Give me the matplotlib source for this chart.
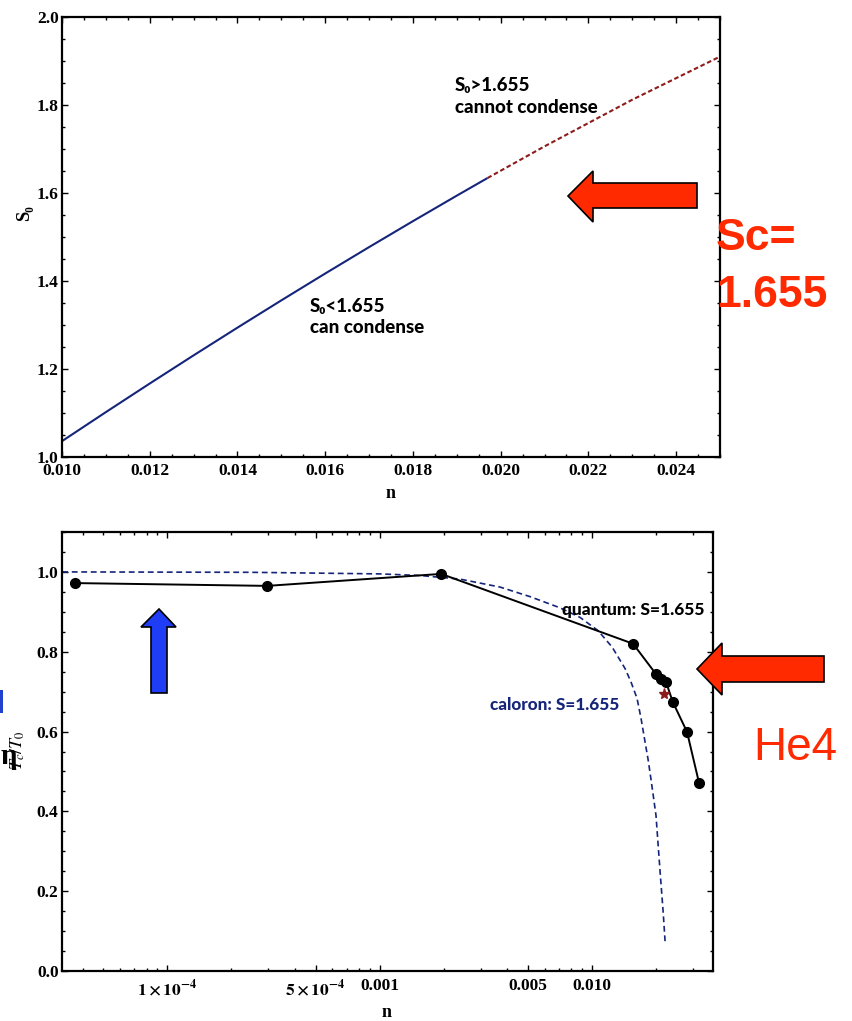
import matplotlib
matplotlib.use("Agg")
import matplotlib.pyplot as plt
from matplotlib.patches import Polygon
from matplotlib.ticker import FixedLocator, FixedFormatter, MultipleLocator, NullFormatter

# ---- upper panel: critical S0 as a function of density n ----
n_cond = [0.010, 0.011, 0.012, 0.013, 0.014, 0.015, 0.016, 0.017, 0.018, 0.019, 0.0197]
s0_cond = [1.036, 1.102, 1.167, 1.231, 1.294, 1.356, 1.417, 1.477, 1.536, 1.594, 1.634]
n_nocond = [0.0197, 0.021, 0.023, 0.025]
s0_nocond = [1.634, 1.706, 1.812, 1.910]

top_xticks = [0.010, 0.012, 0.014, 0.016, 0.018, 0.020, 0.022, 0.024]
top_xlabels = ["0.010", "0.012", "0.014", "0.016", "0.018", "0.020", "0.022", "0.024"]
top_yticks = [1.0, 1.2, 1.4, 1.6, 1.8, 2.0]
top_ylabels = ["1.0", "1.2", "1.4", "1.6", "1.8", "2.0"]

# ---- lower panel: Tc/T0 versus n ----
n_quantum = [3.69e-5, 2.96e-4, 1.95e-3, 0.0156, 0.0200, 0.0211, 0.0223, 0.0240, 0.0280, 0.0319]
tc_quantum = [0.972, 0.965, 0.995, 0.820, 0.744, 0.732, 0.724, 0.674, 0.599, 0.471]
n_he4 = [0.0218]
tc_he4 = [0.694]
n_caloron = [3.21e-5, 2.46e-4, 1.005e-3, 1.55e-3, 2.39e-3, 3.69e-3, 5.11e-3, 7.07e-3, 8.78e-3,
             0.01067, 0.01242, 0.01430, 0.01526, 0.01629, 0.01702, 0.01775, 0.01836, 0.01895,
             0.0200, 0.0209, 0.0216, 0.0221]
tc_caloron = [1.0, 0.999, 0.995, 0.991, 0.982, 0.962, 0.938, 0.910, 0.886,
              0.853, 0.812, 0.758, 0.724, 0.683, 0.632, 0.575, 0.530, 0.480,
              0.390, 0.250, 0.150, 0.070]

bot_xticks = [1e-4, 5e-4, 1e-3, 5e-3, 1e-2]
bot_xlabels = [r"$\mathbf{1\times10^{-4}}$", r"$\mathbf{5\times10^{-4}}$", "0.001", "0.005", "0.010"]
bot_yticks = [0.0, 0.2, 0.4, 0.6, 0.8, 1.0]
bot_ylabels = ["0.0", "0.2", "0.4", "0.6", "0.8", "1.0"]

W, H = 852, 1021
NAVY = "#15257a"
DARKRED = "#8e1b1b"
RED = "#ff2a00"
BLUE = "#1f3df5"
SERIF = ["Liberation Serif", "DejaVu Serif"]
SANS = ["Lato", "DejaVu Sans"]
ARIAL = ["Liberation Sans", "DejaVu Sans"]


def fx(px):
    return px / W


def fy(py):
    return 1 - py / H


def style_axes(ax):
    for sp in ax.spines.values():
        sp.set_linewidth(1.6)
    ax.tick_params(which="both", direction="in", top=True, right=True, width=1.0)
    ax.tick_params(which="major", length=4.5, pad=2.5)
    ax.tick_params(which="minor", length=2.5)
    for lab in ax.get_xticklabels() + ax.get_yticklabels():
        lab.set_fontfamily(SERIF)
        lab.set_fontweight("bold")
        lab.set_fontsize(12.5)


def arrow(fig, pts, color):
    poly = Polygon([(fx(x), fy(y)) for x, y in pts], closed=True, transform=fig.transFigure,
                   facecolor=color, edgecolor="black", linewidth=1.2, zorder=10, clip_on=False)
    fig.patches.append(poly)


plt.rcParams["mathtext.fontset"] = "stix"
fig = plt.figure(figsize=(W / 100, H / 100), dpi=100)
fig.patch.set_facecolor("white")

# upper panel
ax1 = fig.add_axes([fx(62), fy(457), (720 - 62) / W, (457 - 17) / H])
ax1.plot(n_cond, s0_cond, color=NAVY, lw=1.5, solid_capstyle="butt")
ax1.plot(n_nocond, s0_nocond, color=DARKRED, lw=1.5, dashes=(2.2, 1.3))
ax1.set_xlim(0.010, 0.025)
ax1.set_ylim(1.0, 2.0)
ax1.xaxis.set_major_locator(FixedLocator(top_xticks))
ax1.xaxis.set_major_formatter(FixedFormatter(top_xlabels))
ax1.xaxis.set_minor_locator(MultipleLocator(0.0005))
ax1.yaxis.set_major_locator(FixedLocator(top_yticks))
ax1.yaxis.set_major_formatter(FixedFormatter(top_ylabels))
ax1.yaxis.set_minor_locator(MultipleLocator(0.05))
style_axes(ax1)
ax1.tick_params(axis="x", which="major", pad=4)

note_kw = dict(family=SANS, fontweight="black", fontsize=13.5, ha="left", va="center")
ax1.text(0.01896, 1.845, "S₀>1.655", **note_kw)
ax1.text(0.01896, 1.795, "cannot condense", **note_kw)
ax1.text(0.01565, 1.341, "S₀<1.655", **note_kw)
ax1.text(0.01565, 1.295, "can condense", **note_kw)

fig.text(fx(25), fy(213), "S₀", family=SERIF, fontweight="bold", fontsize=13.5,
         rotation=90, ha="center", va="center")
fig.text(fx(391), fy(493), "n", family=SERIF, fontweight="bold", fontsize=13,
         ha="center", va="center")

# lower panel
ax2 = fig.add_axes([fx(62), fy(971), (713 - 62) / W, (971 - 532) / H])
ax2.set_xscale("log")
ax2.plot(n_caloron, tc_caloron, color=NAVY, lw=1.2, dashes=(3.5, 2.2))
ax2.plot(n_quantum, tc_quantum, color="black", lw=1.4, marker="o", markersize=7)
ax2.plot(n_he4, tc_he4, linestyle="none", marker="*", color=DARKRED, markersize=8)
ax2.set_xlim(3.2e-5, 0.0371)
ax2.set_ylim(0.0, 1.1)
minor = [k * 10.0 ** d for d in range(-5, -1) for k in range(1, 10)]
minor = [v for v in minor if all(abs(v - t) / t > 1e-6 for t in bot_xticks)]
ax2.xaxis.set_major_locator(FixedLocator(bot_xticks))
ax2.xaxis.set_major_formatter(FixedFormatter(bot_xlabels))
ax2.xaxis.set_minor_locator(FixedLocator(minor))
ax2.xaxis.set_minor_formatter(NullFormatter())
ax2.yaxis.set_major_locator(FixedLocator(bot_yticks))
ax2.yaxis.set_major_formatter(FixedFormatter(bot_ylabels))
ax2.yaxis.set_minor_locator(MultipleLocator(0.05))
style_axes(ax2)
ax2.tick_params(axis="x", which="major", pad=5)

ax2.text(7.22e-3, 0.905, "quantum: S=1.655", family=SANS, fontweight="black", fontsize=12.5,
         ha="left", va="center", color="black")
ax2.text(3.31e-3, 0.667, "caloron: S=1.655", family=SANS, fontweight="black", fontsize=12.3,
         ha="left", va="center", color=NAVY)

fig.text(fx(18), fy(750), r"$T_c/T_0$", fontsize=13, rotation=90, ha="center", va="center")
fig.text(fx(9), fy(756), "η", family=SERIF, fontweight="bold", fontsize=21,
         ha="center", va="center")
fig.text(fx(387), fy(1012), "n", family=SERIF, fontweight="bold", fontsize=13,
         ha="center", va="center")

# side annotations
fig.text(fx(716), fy(250), "Sc=", family=ARIAL, fontweight="bold",
         fontsize=32, color=RED, ha="left", va="baseline")
fig.text(fx(716), fy(307), "1.655", family=ARIAL, fontweight="bold",
         fontsize=32, color=RED, ha="left", va="baseline")
fig.text(fx(753), fy(760), "He4", family=ARIAL,
         fontsize=33, color=RED, ha="left", va="baseline")
fig.patches.append(Polygon([(fx(0), fy(690)), (fx(3), fy(690)), (fx(3), fy(713)), (fx(0), fy(713))],
                           closed=True, transform=fig.transFigure, facecolor="#2040d0",
                           edgecolor="none"))

arrow(fig, [(568, 196), (593, 171), (593, 183), (697, 183), (697, 208), (593, 208), (593, 222)], RED)
arrow(fig, [(697, 669), (722, 643), (722, 656), (824, 656), (824, 682), (722, 682), (722, 695)], RED)
arrow(fig, [(159, 609), (176, 627), (167, 627), (167, 693), (151, 693), (151, 627), (141, 627)], BLUE)

fig.savefig("out.png", dpi=100, facecolor="white")
